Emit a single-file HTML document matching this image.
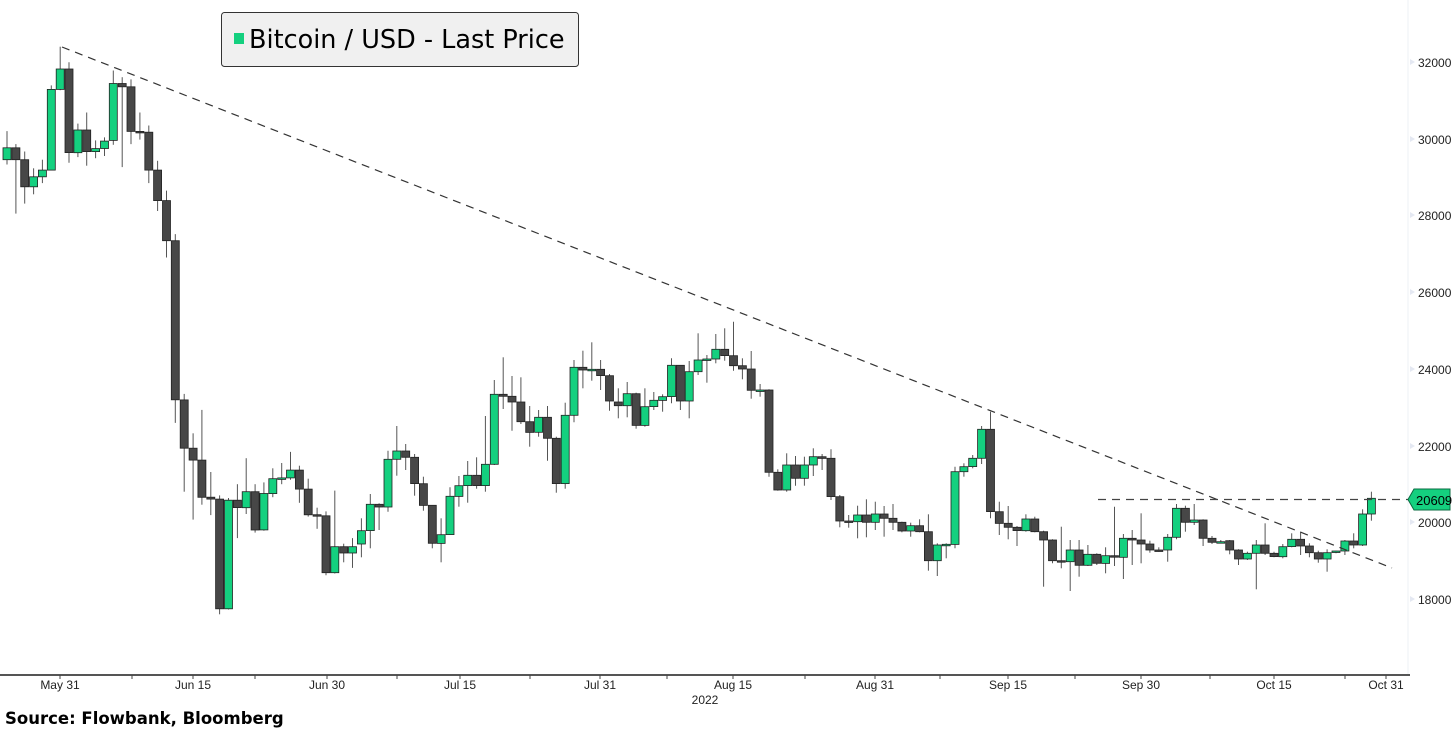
<!DOCTYPE html>
<html><head><meta charset="utf-8"><style>
html,body{margin:0;padding:0;background:#fff;}
svg{display:block;font-family:"Liberation Sans",sans-serif;}
</style></head><body>
<svg id="s" width="1454" height="729" viewBox="0 0 1454 729" xmlns="http://www.w3.org/2000/svg">
<rect width="1454" height="729" fill="#fff"/>
<line x1="1408" y1="0" x2="1408" y2="675" stroke="#eef0f6" stroke-width="1"/>
<g id="c"></g>
<line x1="62" y1="47" x2="1392" y2="568" stroke="#333" stroke-width="1.2" stroke-dasharray="8,6"/>
<line x1="1098" y1="499.5" x2="1408" y2="499.5" stroke="#444" stroke-width="1.2" stroke-dasharray="8,6"/>
<line x1="0" y1="675" x2="1410" y2="675" stroke="#555" stroke-width="2"/>
<g stroke="#444" stroke-width="1">
<line x1="60" y1="675" x2="60" y2="679"/><line x1="132" y1="675" x2="132" y2="679"/>
<line x1="193" y1="675" x2="193" y2="679"/><line x1="255" y1="675" x2="255" y2="679"/>
<line x1="327" y1="675" x2="327" y2="679"/><line x1="397" y1="675" x2="397" y2="679"/>
<line x1="460" y1="675" x2="460" y2="679"/><line x1="530" y1="675" x2="530" y2="679"/>
<line x1="600" y1="675" x2="600" y2="679"/><line x1="667" y1="675" x2="667" y2="679"/>
<line x1="733" y1="675" x2="733" y2="679"/><line x1="805" y1="675" x2="805" y2="679"/>
<line x1="875" y1="675" x2="875" y2="679"/><line x1="940" y1="675" x2="940" y2="679"/>
<line x1="1008" y1="675" x2="1008" y2="679"/><line x1="1075" y1="675" x2="1075" y2="679"/>
<line x1="1141" y1="675" x2="1141" y2="679"/><line x1="1210" y1="675" x2="1210" y2="679"/>
<line x1="1274" y1="675" x2="1274" y2="679"/><line x1="1345" y1="675" x2="1345" y2="679"/>
<line x1="1386" y1="675" x2="1386" y2="679"/>
</g>
<g font-size="12" fill="#222" text-anchor="middle">
<text x="60" y="689">May 31</text><text x="193" y="689">Jun 15</text><text x="327" y="689">Jun 30</text>
<text x="460" y="689">Jul 15</text><text x="600" y="689">Jul 31</text><text x="733" y="689">Aug 15</text>
<text x="875" y="689">Aug 31</text><text x="1008" y="689">Sep 15</text><text x="1141" y="689">Sep 30</text>
<text x="1274" y="689">Oct 15</text><text x="1386" y="689">Oct 31</text>
<text x="705" y="704">2022</text>
</g>
<g font-size="12" fill="#222">
<text x="1418" y="67">32000</text><text x="1418" y="144">30000</text><text x="1418" y="220">28000</text>
<text x="1418" y="297">26000</text><text x="1418" y="374">24000</text><text x="1418" y="451">22000</text>
<text x="1418" y="527">20000</text><text x="1418" y="604">18000</text>
</g>
<g fill="#e4e8f2">
<polygon points="1410,59 1415,62 1410,65"/><polygon points="1410,136 1415,139 1410,142"/>
<polygon points="1410,212 1415,215 1410,218"/><polygon points="1410,289 1415,292 1410,295"/>
<polygon points="1410,366 1415,369 1410,372"/><polygon points="1410,443 1415,446 1410,449"/>
<polygon points="1410,519 1415,522 1410,525"/><polygon points="1410,596 1415,599 1410,602"/>
</g>
<polygon points="1408,499.5 1414,489 1450,489 1450,510 1414,510" fill="#14d07f" stroke="#0a6b40" stroke-width="1"/>
<text x="1416" y="505" font-size="13" fill="#000">20609</text>
<rect x="221.5" y="12.5" width="357" height="54" rx="3" fill="#f0f0f0" stroke="#333" stroke-width="1"/>
<rect x="234" y="33" width="10" height="11" fill="#14d07f"/>
<text x="249" y="48" font-size="25.5" fill="#000" font-family="DejaVu Sans, sans-serif">Bitcoin / USD - Last Price</text>
<text x="5" y="724" font-size="16.5" font-weight="bold" fill="#000" font-family="DejaVu Sans, sans-serif">Source: Flowbank, Bloomberg</text>
</svg>
<script>
var d=[
[1,322,290,245,335],[1,290,322,280,467],[1,322,395,300,440],[1,395,368,345,415],[1,368,350,322,385],
[1,350,133,122,350],[1,133,78,18,135],[1,78,303,60,330],[1,303,242,225,315],[1,242,300,195,338],
[1,300,292,270,318],[1,292,272,262,312],[1,270,117,82,282],[1,117,126,100,342],[1,126,246,106,280],
[1,246,248,195,268],[1,248,350,230,385],[1,350,432,325,460],[1,432,540,405,585],[1,540,968,522,1030],
[1,968,1098,952,1215],[1,1098,1130,1058,1290],[1,1130,1230,995,1250],[1,1230,1235,1162,1278],[1,1235,1530,1225,1545],
[1,1530,1238,1232,1532],[1,1238,1258,1195,1340],[1,1258,1215,1125,1275],[1,1215,1318,1195,1325],[1,1318,1220,1190,1320],
[1,1220,1180,1152,1230],[1,1180,1178,1138,1195],[1,1178,1157,1108,1183],[1,1157,1208,1145,1245],[1,1208,1277,1180,1282],
[1,1277,1280,1258,1315],[1,1280,1433,1268,1440],[1,1433,1363,1212,1435],[1,1363,1380,1355,1405],[1,1380,1363,1340,1420],
[2,732,692,655,772],[2,692,613,582,745],[2,613,621,610,690],[2,621,478,452,635],[2,478,453,378,527],
[2,453,472,432,510],[2,472,551,462,587],[2,551,616,530,632],[2,616,730,615,745],[2,730,704,655,787],
[2,704,589,562,705],[2,589,557,528,620],[2,557,526,483,608],[2,526,557,472,566],[2,557,493,348,575],
[2,493,283,240,495],[2,283,289,172,327],[2,289,306,228,392],[2,306,365,232,372],[2,365,397,318,440],
[2,397,352,330,410],[2,352,415,318,482],[2,415,551,410,578],[2,551,346,308,566],[2,346,202,180,367],
[2,202,210,152,265],[2,210,208,127,242],[2,208,227,180,270],[2,227,303,222,332],[2,306,317,265,355],
[2,317,281,246,352],[2,281,376,278,386],[2,376,320,265,380],[2,320,301,276,330],[2,301,290,283,335],
[2,290,196,175,310],[2,196,303,196,330],[2,303,215,183,355],[2,215,180,100,225],[2,178,177,165,248],
[2,177,148,102,190],[2,148,167,85,182],[2,167,197,65,212],[2,197,207,175,238],[2,207,271,153,296],
[2,271,270,252,290],[2,270,517,268,530],[2,517,570,508,572],[2,570,495,460,575],[2,495,535,468,557],
[2,535,495,470,557],[2,495,470,445,528],[2,470,475,462,510],[2,475,590,448,600],[2,590,663,585,682],
[2,663,665,645,683],[2,665,645,617,715],[2,645,667,598,712],[2,667,642,605,690],[2,642,655,618,710],
[2,655,667,612,690],[2,667,693,665,697],[2,693,677,668,710],[2,677,695,658,697],[2,695,782,643,812],
[2,782,735,730,828],[2,735,733,730,775],[2,733,515,500,745],[2,515,500,490,530],[2,500,475,465,505],
[2,475,388,378,492],[2,388,635,335,655],[2,635,670,605,705],[2,670,682,618,718],[2,682,692,678,738],
[2,692,657,643,695],[2,657,695,650,697],[2,695,720,692,860],[2,720,782,718,790],
[4,302,305,200,325],[4,305,270,240,393],[4,270,316,240,350],[4,316,283,255,318],[4,283,310,280,315],
[4,310,287,262,340],[4,287,290,140,318],[4,292,235,222,357],[4,235,240,210,315],[4,240,252,160,310],
[4,252,270,242,278],[4,270,272,262,275],[4,270,232,222,305],[4,232,145,132,238],[4,145,187,137,215],
[4,187,180,132,195],[4,180,235,178,258],[4,235,247,228,252],[4,246,245,240,250],[4,242,270,240,283],
[4,270,297,268,315],[4,297,280,275,300],[4,280,255,240,388],[4,255,280,190,285],[4,280,290,275,292],
[4,290,260,252,295],[4,260,238,220,262],[4,238,258,215,285],[4,258,278,250,292],[4,278,297,272,308],
[4,297,278,268,335],[4,275,273,272,280],[4,273,243,240,285],[4,243,255,220,265],[4,255,162,148,258],
[4,162,115,95,182]];
var g=document.getElementById('c'),h='';
function cv(s,z){return s==1?z/2.69+40:(s==2?z/3+300:z/3+460);}
d.forEach(function(r,i){
 var x=7+i*8.86,o=cv(r[0],r[1]),c=cv(r[0],r[2]),hi=cv(r[0],r[3]),lo=cv(r[0],r[4]);
 var up=c<=o,top=Math.min(o,c),bh=Math.max(Math.abs(o-c),1.5);
 h+='<line x1="'+x.toFixed(1)+'" y1="'+hi.toFixed(1)+'" x2="'+x.toFixed(1)+'" y2="'+lo.toFixed(1)+'" stroke="#555" stroke-width="1"/>';
 h+='<rect x="'+(x-4).toFixed(1)+'" y="'+top.toFixed(1)+'" width="8" height="'+bh.toFixed(1)+'" fill="'+(up?'#14d07f':'#474747')+'" stroke="#222" stroke-width="0.8"/>';
});
g.innerHTML=h;
</script>
</body></html>
